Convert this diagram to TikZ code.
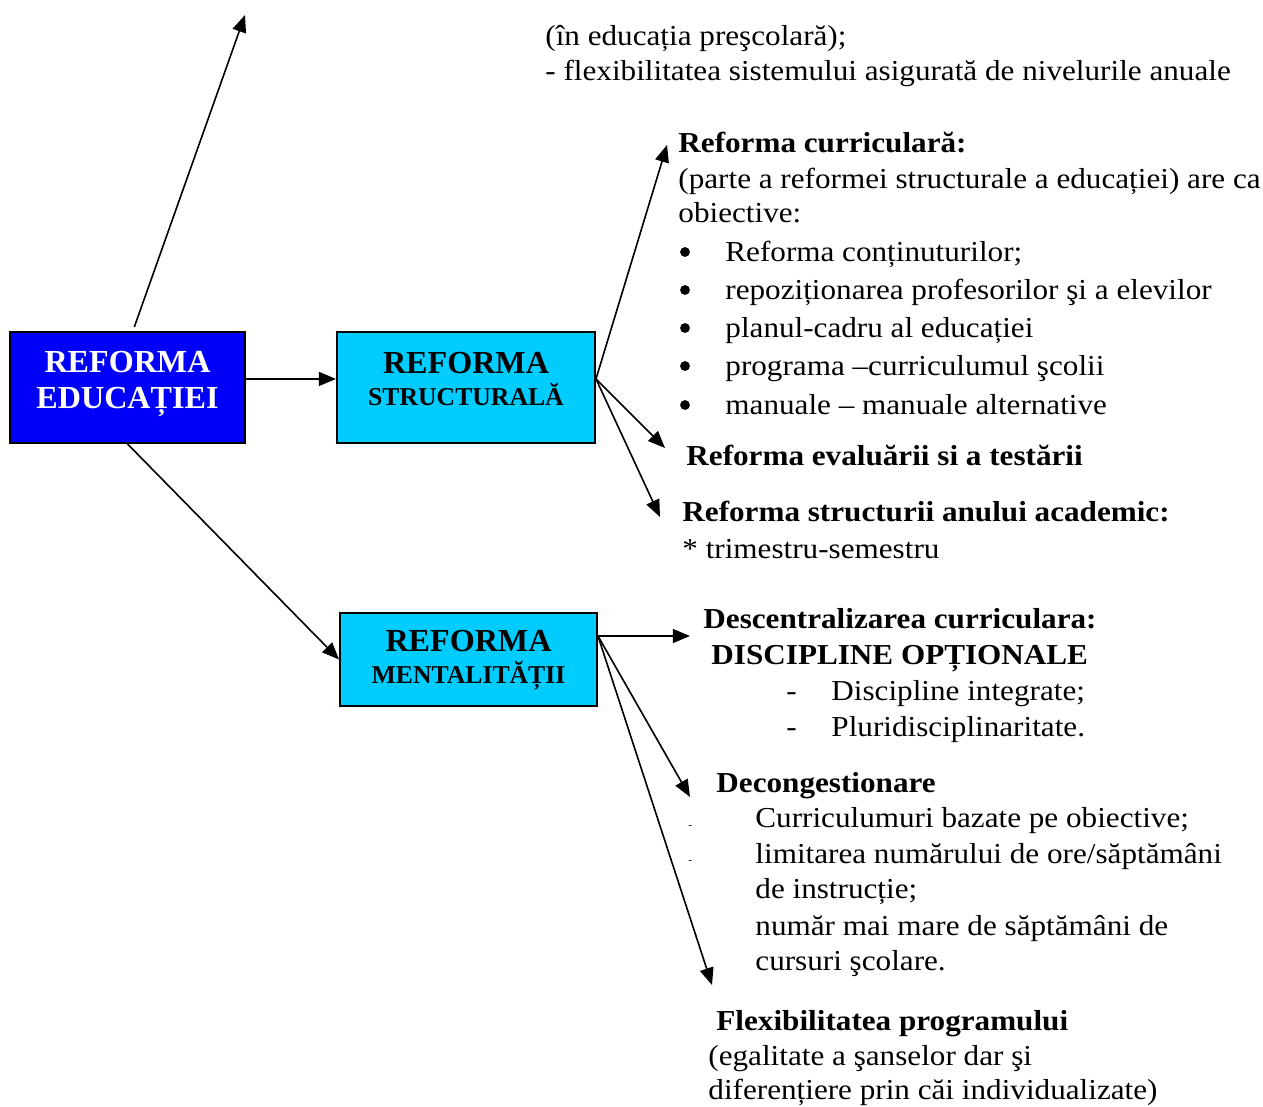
\documentclass[tikz,border=0pt]{standalone}
\usepackage{fontspec}
\setmainfont{Liberation Serif}[FakeStretch=1.078]
\newfontfamily\boxfont{Liberation Serif}
\usetikzlibrary{arrows.meta}
\definecolor{reformblue}{RGB}{0,0,250}
\definecolor{reformcyan}{RGB}{0,204,255}
\tikzset{
  box/.style={draw, line width=0.9pt, inner sep=0pt},
  conn/.style={line width=0.75pt, -{Triangle[length=8pt,width=6.5pt]}},
  txt/.style={anchor=west, inner sep=0pt, yshift=-1.8pt, font=\fontsize{13.5}{16}\selectfont, text height=1.6ex, text depth=0.4ex},
  hd/.style={txt, font=\fontsize{13.5}{16}\selectfont\bfseries},
  boxtxt/.style={align=center, inner sep=0pt, font=\boxfont\fontsize{15}{17}\selectfont\bfseries},
  bullet/.style={circle, fill, inner sep=0pt, minimum size=4.6pt},
}

\begin{document}
\begin{tikzpicture}[x=0.467pt, y=-0.467pt]
  \useasboundingbox (0,0) rectangle (1263,1106);

  % the three boxes
  \node[box, fill=reformblue, minimum width=109.7pt, minimum height=51.8pt] (edu) at (127.5,387.5) {};
  \node[boxtxt, text=white] (edutxt) at (127.5,384) {REFORMA\\EDUCAȚIEI};
  \node[box, fill=reformcyan, minimum width=120.5pt, minimum height=51.8pt] (str) at (466,387.5) {};
  \node[boxtxt] (strtxt) at (466,379) {REFORMA\\[-2pt]{\fontsize{12}{14}\selectfont STRUCTURALĂ}};
  \node[box, fill=reformcyan, minimum width=120pt, minimum height=43.4pt] (mnt) at (468.5,659.5) {};
  \node[boxtxt] (mnttxt) at (468.5,660) {REFORMA\\[-2pt]{\fontsize{12}{14}\selectfont MENTALITĂȚII}};

  % free ends of the arrows
  \coordinate (up) at (245,15);
  \coordinate (strout) at ([yshift=4pt]str.east);
  \coordinate (mntout) at ([yshift=11pt]mnt.east);
  \coordinate (tocurr) at (667,145);
  \coordinate (toeval) at (665,448);
  \coordinate (toyear) at (660,517);
  \coordinate (todesc) at (690,636);
  \coordinate (todec) at (690,797);
  \coordinate (toflex) at (712,985);

  \draw[conn, shorten <=2pt] ([xshift=2.5pt]edu.north) -- (up);
  \draw[conn] ([yshift=4pt]edu.east) -- ([yshift=4pt]str.west);
  \draw[conn] (edu.south) -- (mnt.west);
  \draw[conn] (strout) -- (tocurr);
  \draw[conn] (strout) -- (toeval);
  \draw[conn] (strout) -- (toyear);
  \draw[conn] (mntout) -- (todesc);
  \draw[conn] (mntout) -- (todec);
  \draw[conn] (mntout) -- (toflex);

  % text at the top
  \node[txt] (pre) at (545,36) {(în educația preşcolară);};
  \node[txt] (flex) at (545,71) {- flexibilitatea sistemului asigurată de nivelurile anuale};

  % reforma structurala
  \node[hd] (curr) at (678,143) {Reforma curriculară:};
  \node[txt] (curr1) at (678,179) {(parte a reformei structurale a educației) are ca};
  \node[txt] (curr2) at (678,213) {obiective:};
  \foreach \y/\t [count=\i] in {252/{Reforma conținuturilor;},
      290/{repoziționarea profesorilor şi a elevilor},
      328/{planul-cadru al educației},
      366/{programa –curriculumul şcolii},
      405/{manuale – manuale alternative}} {
    \node[bullet] (dot\i) at (685,\y) {};
    \node[txt] (obj\i) at (725,\y) {\t};
  }
  \node[hd] (eval) at (686,456) {Reforma evaluării si a testării};
  \node[hd] (year) at (682,512) {Reforma structurii anului academic:};
  \node[txt] (year1) at (682,549) {* trimestru-semestru};

  % reforma mentalitatii
  \node[hd] (desc) at (703,619) {Descentralizarea curriculara:};
  \node[hd] (opt) at (711,655) {DISCIPLINE OPȚIONALE};
  \node[txt] (dash1) at (786,691) {-};
  \node[txt] (disc1) at (831,691) {Discipline integrate;};
  \node[txt] (dash2) at (786,727) {-};
  \node[txt] (disc2) at (831,727) {Pluridisciplinaritate.};

  \node[hd] (dec) at (716,783) {Decongestionare};
  \node[txt, font=\tiny] (tick1) at (688,819) {-};
  \node[txt, font=\tiny] (tick2) at (688,854) {-};
  \node[txt] (dec1) at (755,818) {Curriculumuri bazate pe obiective;};
  \node[txt] (dec2) at (755,854) {limitarea numărului de ore/săptămâni};
  \node[txt] (dec3) at (755,889) {de instrucție;};
  \node[txt] (dec4) at (755,926) {număr mai mare de săptămâni de};
  \node[txt] (dec5) at (755,961) {cursuri şcolare.};

  \node[hd] (flexp) at (716,1021) {Flexibilitatea programului};
  \node[txt] (flexp1) at (708,1056) {(egalitate a şanselor dar şi};
  \node[txt] (flexp2) at (708,1090) {diferențiere prin căi individualizate)};
\end{tikzpicture}
\end{document}
